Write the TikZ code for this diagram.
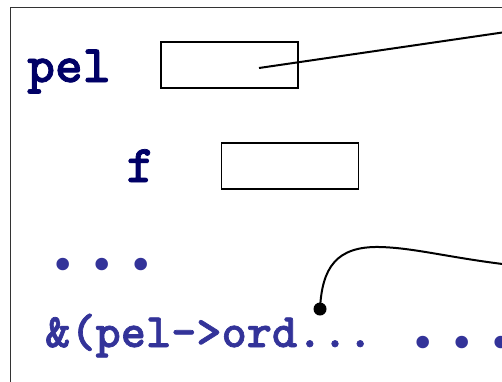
\documentclass[tikz,border=0pt]{standalone}
\usepackage{fontspec}
\usepackage{tikz}
\newfontfamily\codefont{lmmonolt10-bold.otf}[FakeBold=1.4]
\newfontfamily\dotfont{DejaVu Sans}

\definecolor{varname}{RGB}{0,0,102}
\definecolor{exprblue}{RGB}{51,51,153}

\tikzset{
  varlabel/.style={font=\codefont\fontsize{53}{53}\selectfont, text=varname, inner sep=0pt},
  expr/.style={font=\codefont\fontsize{48}{48}\selectfont, text=exprblue, inner sep=0pt},
  bullets/.style={font=\dotfont\fontsize{43}{43}\selectfont, text=exprblue, inner sep=0pt},
  cell/.style={draw, line width=1.4pt, minimum width=137pt, minimum height=46pt, inner sep=0pt},
  link/.style={line width=2pt},
}

\begin{document}
\begin{tikzpicture}[x=1pt,y=-1pt]
\useasboundingbox (0,0) rectangle (502,381);
\clip (0,0) rectangle (502,381);

% the frame runs off to the right and bottom
\draw[line width=1.3pt, black!80] (10.5,420) -- (10.5,7.5) -- (560,7.5);

\node[varlabel, anchor=base west] (pel) at (27,82) {pel};
\node[cell] (pelbox) at (229.5,65) {};

\node[varlabel, anchor=base] (f) at (140.5,182) {f};
\node[cell] (fbox) at (290,166) {};

\node[bullets, anchor=base] (more) at (102,280) {• • •};
\node[expr, anchor=base west] (addr) at (45,347) {\&(pel->ord...};
\node[bullets, anchor=base] (rest) at (462,358) {• • •};

% pointer stored in pel
\coordinate (pelval) at (259,68);
\coordinate (pelend) at (540,27);
\draw[link] (pelval) -- (pelend);

% address of the member
\node[circle, fill, inner sep=0pt, minimum size=13pt] (tip) at (320,309) {};
\coordinate (addrend) at (540,268);
\draw[link] (tip.center) .. controls (322,268) and (336,246) .. (380,247)
  .. controls (420,248) and (460,261) .. (addrend);
\end{tikzpicture}
\end{document}
